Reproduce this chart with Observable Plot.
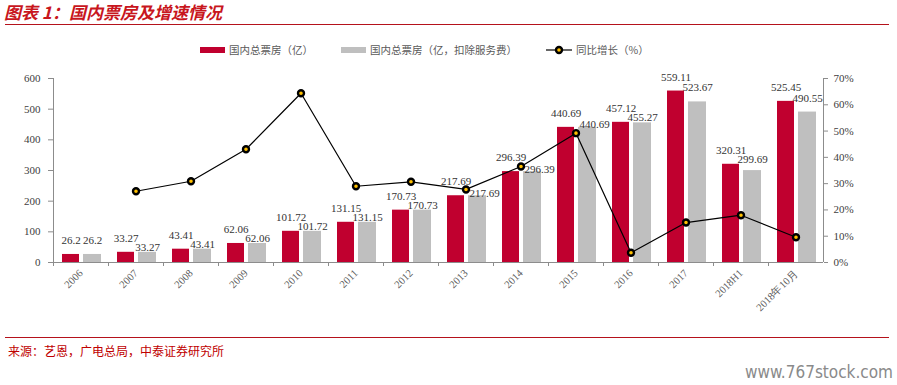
<!DOCTYPE html>
<html><head><meta charset="utf-8">
<script src="https://cdn.jsdelivr.net/npm/d3@7"></script>
<script src="https://cdn.jsdelivr.net/npm/@observablehq/plot@0.6"></script>
<style>
body{margin:0;background:#fff;width:897px;height:385px;position:relative;overflow:hidden;font-family:"Noto Sans CJK SC",sans-serif;}
#title{position:absolute;left:4px;top:1px;font-size:17px;line-height:22px;font-weight:bold;font-style:italic;color:#c8161d;white-space:nowrap;padding-right:4px;}
#tline{position:absolute;left:5px;top:24px;width:884px;height:0;border-top:1.5px solid #b5121b;}
.lg{position:absolute;font-size:10.5px;line-height:14px;color:#595959;white-space:nowrap;}
.sw{position:absolute;height:6px;}
#chart{position:absolute;left:0;top:30px;}
#bline{position:absolute;left:5px;top:337px;width:884px;height:0;border-top:1.5px solid #b5121b;}
#source{position:absolute;left:8px;top:343px;font-size:12px;line-height:16px;color:#c00000;white-space:nowrap;}
#wm{position:absolute;right:4px;top:361px;font-family:"Liberation Sans Narrow","DejaVu Sans Condensed",sans-serif;font-size:17px;line-height:22px;color:#8a8a8a;}
</style>
</head><body>
<div id="title">图表 1：国内票房及增速情况</div>
<div id="tline"></div>
<div id="legend"></div>
<div id="chart"></div>
<div id="bline"></div>
<div id="source">来源：艺恩，广电总局，中泰证券研究所</div>
<div id="wm">www.767stock.com</div>
<script>
const categories = ["2006","2007","2008","2009","2010","2011","2012","2013","2014","2015","2016","2017","2018H1","2018年10月"];
const boxOffice = [26.2,33.27,43.41,62.06,101.72,131.15,170.73,217.69,296.39,440.69,457.12,559.11,320.31,525.45];
const boxOfficeNet = [26.2,33.27,43.41,62.06,101.72,131.15,170.73,217.69,296.39,440.69,455.27,523.67,299.69,490.55];
const growthPct = [null,27.1,30.9,43.1,64.4,29.0,30.7,27.8,36.5,49.2,3.7,15.2,18.0,9.6];
const leftTicks = [0,100,200,300,400,500,600];
const rightTicks = [0,10,20,30,40,50,60,70];
const seriesNames = ["国内总票房（亿）","国内总票房（亿，扣除服务费）","同比增长（%）"];

const RED = "#c0002f", GREY = "#bfbfbf", AXIS = "#8c8c8c";
const W = 897, H = 300, mTop = 48, mBottom = 68, mLeft = 53, mRight = 74;
const yMax = 600, rMax = 70;
const frameH = H - mTop - mBottom;
const k = frameH / yMax;
const bandW = (W - mLeft - mRight) / categories.length;
const toLeft = v => v * yMax / rMax;
const LABEL_LIFT = 14;

const rows = categories.map((c, i) => ({cat: c, red: boxOffice[i], grey: boxOfficeNet[i], g: growthPct[i]}));
const lineRows = rows.filter(d => d.g != null);
const fmt = v => String(v);
const greyLabelY = d => (fmt(d.red).length > 4 && fmt(d.grey).length > 4) ? Math.min(d.grey, d.red - 9.5 / k) : d.grey;
// grey labels that would sit on a line marker are nudged right
const nearMarker = d => d.g != null && Math.abs(k * (toLeft(d.g) - greyLabelY(d)) - LABEL_LIFT) < 11;
const greyPlain = rows.filter(d => !nearMarker(d));
const greyNudged = rows.filter(d => nearMarker(d));

const chart = Plot.plot({
  width: W, height: H,
  marginTop: mTop, marginBottom: mBottom, marginLeft: mLeft, marginRight: mRight,
  style: {fontFamily: "Liberation Serif, serif", fontSize: "11px", background: "transparent", overflow: "visible"},
  x: {type: "band", domain: categories, padding: 0, label: null},
  y: {domain: [0, yMax], label: null},
  marks: [
    Plot.barY(rows, {x: "cat", y: "red", fill: RED, insetLeft: 9, insetRight: 29}),
    Plot.barY(rows, {x: "cat", y: "grey", fill: GREY, insetLeft: 30, insetRight: 7}),
    Plot.ruleY([0], {stroke: AXIS}),
    Plot.ruleX([categories[0]], {x: d => d, y1: 0, y2: yMax, dx: -bandW / 2, stroke: AXIS}),
    Plot.ruleX([categories[categories.length - 1]], {x: d => d, y1: 0, y2: yMax, dx: bandW / 2, stroke: AXIS}),
    Plot.axisX({tickSize: 4, tickFormat: () => "", dx: -bandW / 2, stroke: AXIS, label: null}),
    Plot.axisX({tickSize: 0, tickPadding: 9, tickRotate: -45, fill: "#595959", fontSize: 10.5, label: null}),
    Plot.axisY({anchor: "left", ticks: leftTicks, tickSize: 5, tickPadding: 8, stroke: AXIS, fill: "#404040", fontSize: 11, label: null}),
    Plot.axisY({anchor: "right", ticks: rightTicks.map(toLeft), tickFormat: d => Math.round(d * rMax / yMax) + "%", tickSize: 4, tickPadding: 6, stroke: AXIS, fill: "#404040", fontSize: 11, label: null}),
    Plot.line(lineRows, {x: "cat", y: d => toLeft(d.g), stroke: "#000", strokeWidth: 1.2}),
    Plot.dot(lineRows, {x: "cat", y: d => toLeft(d.g), r: 3, fill: "#ffc000", stroke: "#000", strokeWidth: 2.4}),
    Plot.text(rows, {x: "cat", y: "red", text: d => fmt(d.red), dx: -10, dy: -LABEL_LIFT, fill: "#333", fontSize: 11}),
    Plot.text(greyPlain, {x: "cat", y: greyLabelY, text: d => fmt(d.grey), dx: 11.5, dy: -LABEL_LIFT, fill: "#333", fontSize: 11}),
    Plot.text(greyNudged, {x: "cat", y: greyLabelY, text: d => fmt(d.grey), dx: 18.5, dy: -LABEL_LIFT + 2, fill: "#333", fontSize: 11})
  ]
});
document.getElementById("chart").appendChild(chart);

// legend
const lg = document.getElementById("legend");
function add(html) { lg.insertAdjacentHTML("beforeend", html); }
add(`<div class="sw" style="left:200px;top:47px;width:25px;background:${RED}"></div>`);
add(`<div class="lg" style="left:229px;top:43px">${seriesNames[0]}</div>`);
add(`<div class="sw" style="left:341px;top:47px;width:25px;background:${GREY}"></div>`);
add(`<div class="lg" style="left:370px;top:43px">${seriesNames[1]}</div>`);
add(`<svg style="position:absolute;left:544px;top:44px" width="30" height="12"><line x1="2" y1="6" x2="28" y2="6" stroke="#000" stroke-width="1.2"/><circle cx="15" cy="6" r="3" fill="#ffc000" stroke="#000" stroke-width="2.4"/></svg>`);
add(`<div class="lg" style="left:576px;top:43px">${seriesNames[2]}</div>`);
</script>
</body></html>
